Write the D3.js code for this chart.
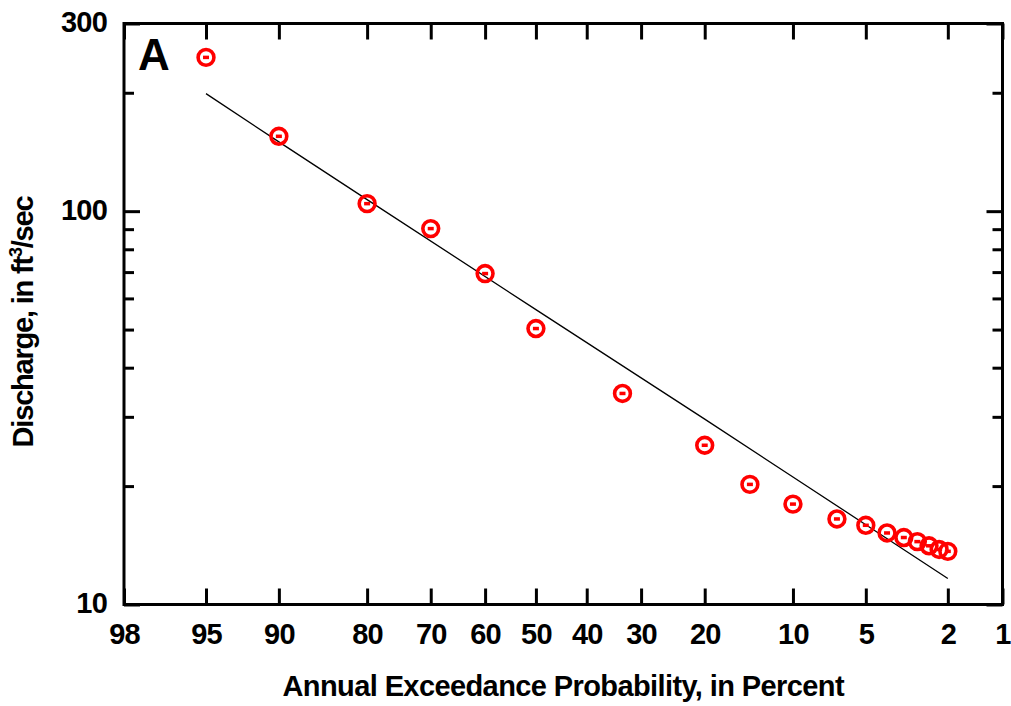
<!DOCTYPE html>
<html lang="en">
<head>
<meta charset="utf-8">
<title>Annual Exceedance Probability</title>
<script src="https://cdn.jsdelivr.net/npm/d3@7"></script>
<style>
    body { margin: 0; background: #fff; }
    svg { font-family: 'Liberation Sans', Arial, sans-serif; font-weight: bold; }
    .axis text { font-size: 29px; font-weight: bold; fill: #000; letter-spacing: -0.8px; font-family: 'Liberation Sans', Arial, sans-serif; }
    .axis line { stroke: #000; stroke-width: 3px; }
    .axis path { display: none; }
</style>
</head>
<body>
<script>
    // exceedance probability (percent) of the observed peaks
    var obsProb = [95, 90, 80, 70, 60, 50, 33.3, 20, 14.3, 10, 6.67, 5, 4, 3.33, 2.86, 2.5, 2.22, 2];
    // observed discharge, ft3/sec
    var obsQ = [246, 155, 104.5, 90.3, 69.4, 50.3, 34.4, 25.4, 20.2, 18.0, 16.5, 15.9, 15.2, 14.8, 14.45, 14.1, 13.8, 13.65];

    // fitted frequency curve
    var fitProb = [95, 90, 80, 50, 20, 10, 5, 2];
    var fitQ = [199, 150, 107, 56.2, 29.6, 21.1, 15.95, 11.64];

    var xTicks = [98, 95, 90, 80, 70, 60, 50, 40, 30, 20, 10, 5, 2, 1];
    var yMajor = [10, 100, 300];
    var yMinor = [20, 30, 40, 50, 60, 70, 80, 90, 200];

    var W = 1011, H = 706;
    var pLeft = 124, pRight = 1002.5, pTop = 23.5, pBottom = 604.5;

    // inverse standard normal (Acklam)
    function qnorm(p) {
        var a = [-3.969683028665376e+01, 2.209460984245205e+02, -2.759285104469687e+02, 1.383577518672690e+02, -3.066479806614716e+01, 2.506628277459239e+00];
        var b = [-5.447609879822406e+01, 1.615858368580409e+02, -1.556989798598866e+02, 6.680131188771972e+01, -1.328068155288572e+01];
        var c = [-7.784894002430293e-03, -3.223964580411365e-01, -2.400758277161838e+00, -2.549732539343734e+00, 4.374664141464968e+00, 2.938163982698783e+00];
        var d = [7.784695709041462e-03, 3.224671290700398e-01, 2.445134137142996e+00, 3.754408661907416e+00];
        var plow = 0.02425, q, r;
        if (p < plow) {
            q = Math.sqrt(-2 * Math.log(p));
            return (((((c[0]*q+c[1])*q+c[2])*q+c[3])*q+c[4])*q+c[5]) / ((((d[0]*q+d[1])*q+d[2])*q+d[3])*q+1);
        }
        if (p > 1 - plow) {
            q = Math.sqrt(-2 * Math.log(1 - p));
            return -(((((c[0]*q+c[1])*q+c[2])*q+c[3])*q+c[4])*q+c[5]) / ((((d[0]*q+d[1])*q+d[2])*q+d[3])*q+1);
        }
        q = p - 0.5; r = q * q;
        return (((((a[0]*r+a[1])*r+a[2])*r+a[3])*r+a[4])*r+a[5])*q / (((((b[0]*r+b[1])*r+b[2])*r+b[3])*r+b[4])*r+1);
    }
    function zOf(p) { return qnorm(1 - p / 100); }

    var xz = d3.scaleLinear().domain([zOf(98), zOf(1)]).range([pLeft, pRight]);
    var x = function(p) { return xz(zOf(p)); };
    var y = d3.scaleLog().domain([10, 300]).range([pBottom, pTop]);

    var svg = d3.select('body').append('svg')
        .attr('width', W)
        .attr('height', H);

    // axes
    var xTickZ = xTicks.map(zOf);
    svg.append('g')
        .attr('class', 'axis xlab')
        .attr('transform', 'translate(0,' + pBottom + ')')
        .call(d3.axisBottom(xz).tickValues(xTickZ).tickSize(-16).tickPadding(19)
            .tickFormat(function(d, i) { return xTicks[i]; }));
    svg.append('g')
        .attr('class', 'axis')
        .attr('transform', 'translate(0,' + pTop + ')')
        .call(d3.axisTop(xz).tickValues(xTickZ).tickSize(-16).tickFormat(''));

    svg.append('g')
        .attr('class', 'axis ylab')
        .attr('transform', 'translate(' + pLeft + ',0)')
        .call(d3.axisLeft(y).tickValues(yMajor).tickSize(-16).tickPadding(17)
            .tickFormat(d3.format('d')));
    svg.append('g')
        .attr('class', 'axis')
        .attr('transform', 'translate(' + pLeft + ',0)')
        .call(d3.axisLeft(y).tickValues(yMinor).tickSize(-10).tickFormat(''));
    svg.append('g')
        .attr('class', 'axis')
        .attr('transform', 'translate(' + pRight + ',0)')
        .call(d3.axisRight(y).tickValues(yMajor).tickSize(-16).tickFormat(''));
    svg.append('g')
        .attr('class', 'axis')
        .attr('transform', 'translate(' + pRight + ',0)')
        .call(d3.axisRight(y).tickValues(yMinor).tickSize(-10).tickFormat(''));

    svg.selectAll('.xlab text').attr('dy', '0.71em');
    svg.selectAll('.ylab text').attr('dy', '0.27em');

    // frame
    svg.append('rect')
        .attr('x', pLeft)
        .attr('y', pTop)
        .attr('width', pRight - pLeft)
        .attr('height', pBottom - pTop)
        .attr('fill', 'none')
        .attr('stroke', '#000')
        .attr('stroke-width', 3);

    // fitted line
    var line = d3.line()
        .x(function(d, i) { return x(fitProb[i]); })
        .y(function(d, i) { return y(fitQ[i]); });
    svg.append('path')
        .datum(fitProb)
        .attr('d', line)
        .attr('fill', 'none')
        .attr('stroke', '#000')
        .attr('stroke-width', 1.3);

    // observed points
    var pts = svg.append('g').selectAll('g')
        .data(obsProb)
        .enter()
        .append('g')
        .attr('transform', function(d, i) { return 'translate(' + x(d) + ',' + y(obsQ[i]) + ')'; });
    pts.append('circle')
        .attr('r', 7.9)
        .attr('fill', 'none')
        .attr('stroke', '#ff0000')
        .attr('stroke-width', 3.6);
    pts.append('rect')
        .attr('x', -3)
        .attr('y', -1.75)
        .attr('width', 6)
        .attr('height', 3.5)
        .attr('fill', '#ff0000');

    // panel letter
    svg.append('text')
        .attr('x', 138)
        .attr('y', 70)
        .style('font-size', '44px')
        .text('A');

    // axis titles
    svg.append('text')
        .attr('x', (pLeft + pRight) / 2)
        .attr('y', 696)
        .attr('text-anchor', 'middle')
        .style('font-size', '29px')
        .style('letter-spacing', '-0.6px')
        .text('Annual Exceedance Probability, in Percent');

    var yt = svg.append('text')
        .attr('transform', 'translate(33,322) rotate(-90)')
        .attr('text-anchor', 'middle')
        .style('font-size', '29px')
        .style('letter-spacing', '-1.2px');
    yt.append('tspan').text('Discharge, in ft');
    yt.append('tspan').attr('dy', -11).style('font-size', '18px').text('3');
    yt.append('tspan').attr('dy', 11).text('/sec');
</script>
</body>
</html>
